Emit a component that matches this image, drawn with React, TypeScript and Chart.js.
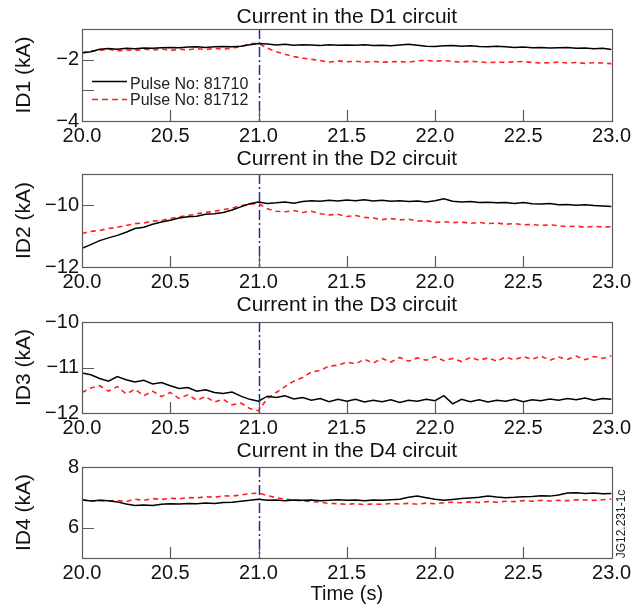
import React, { useEffect, useRef } from "react";
import { Chart, registerables } from "chart.js";
Chart.register(...registerables);

// ---------- DATA ----------
const TIME = [
  20.0, 20.05, 20.1, 20.15, 20.2, 20.25, 20.3, 20.35, 20.4, 20.45,
  20.5, 20.55, 20.6, 20.65, 20.7, 20.75, 20.8, 20.85, 20.9, 20.95,
  21.0, 21.05, 21.1, 21.15, 21.2, 21.25, 21.3, 21.35, 21.4, 21.45,
  21.5, 21.55, 21.6, 21.65, 21.7, 21.75, 21.8, 21.85, 21.9, 21.95,
  22.0, 22.05, 22.1, 22.15, 22.2, 22.25, 22.3, 22.35, 22.4, 22.45,
  22.5, 22.55, 22.6, 22.65, 22.7, 22.75, 22.8, 22.85, 22.9, 22.95,
  23.0,
];

const D1_81710 = [
  -1.78, -1.74, -1.66, -1.64, -1.66, -1.63, -1.64, -1.62, -1.63, -1.61,
  -1.6, -1.61, -1.59, -1.58, -1.6, -1.58, -1.57, -1.58, -1.56, -1.51,
  -1.47, -1.49, -1.52, -1.5, -1.53, -1.51, -1.52, -1.54, -1.51, -1.53,
  -1.52, -1.53, -1.51, -1.54, -1.53, -1.55, -1.52, -1.5, -1.53, -1.56,
  -1.57, -1.55, -1.54, -1.56, -1.55, -1.57, -1.58, -1.56, -1.58, -1.6,
  -1.59, -1.61, -1.6, -1.62, -1.61, -1.6, -1.63, -1.62, -1.64, -1.63,
  -1.67,
];
const D1_81712 = [
  -1.77, -1.72, -1.7, -1.66, -1.72, -1.68, -1.7, -1.66, -1.69, -1.65,
  -1.7, -1.66, -1.68, -1.64, -1.67, -1.63, -1.66, -1.62, -1.58, -1.48,
  -1.47, -1.62, -1.74, -1.82, -1.9, -1.95, -1.99, -2.03, -2.08, -2.04,
  -2.07, -2.05, -2.08, -2.06, -2.08, -2.07, -2.06, -2.08, -2.04, -2.02,
  -2.05, -2.03, -2.06, -2.08, -2.05, -2.07, -2.1, -2.08, -2.09, -2.07,
  -2.06, -2.09, -2.11, -2.1, -2.08, -2.11, -2.09, -2.12, -2.1, -2.11,
  -2.13,
];

const D2_81710 = [
  -11.4, -11.28, -11.15, -11.06, -10.98, -10.88, -10.76, -10.72, -10.62, -10.55,
  -10.49, -10.42, -10.38, -10.36, -10.3, -10.28, -10.24, -10.16, -10.06, -9.96,
  -9.9, -9.95, -9.93, -9.9, -9.94, -9.89, -9.86, -9.88, -9.85, -9.87,
  -9.84, -9.86, -9.83, -9.87, -9.85, -9.88, -9.86, -9.89, -9.87, -9.9,
  -9.86, -9.8, -9.88, -9.9, -9.89, -9.92, -9.91, -9.93, -9.92, -9.95,
  -9.92, -9.96, -9.97, -9.95, -9.99, -9.98, -10.01, -9.99, -10.02, -10.03,
  -10.05,
];
const D2_81712 = [
  -10.92, -10.85, -10.82, -10.76, -10.72, -10.66, -10.6, -10.58, -10.52, -10.5,
  -10.44, -10.38, -10.34, -10.28, -10.24, -10.2, -10.15, -10.1, -10.02, -9.98,
  -9.95, -10.12, -10.2, -10.22, -10.18, -10.24, -10.2, -10.28, -10.32, -10.3,
  -10.37, -10.34, -10.4, -10.42, -10.47, -10.44, -10.48, -10.46, -10.52, -10.5,
  -10.56, -10.54, -10.57, -10.55, -10.59, -10.56, -10.6, -10.58, -10.62, -10.6,
  -10.64, -10.63, -10.66, -10.64, -10.67, -10.7, -10.68, -10.72, -10.69, -10.71,
  -10.7,
];

const D3_81710 = [
  -11.12, -11.16, -11.24, -11.3, -11.2, -11.27, -11.32, -11.28, -11.36, -11.33,
  -11.4, -11.46, -11.44, -11.52, -11.49, -11.55, -11.57, -11.54, -11.63, -11.7,
  -11.74, -11.63, -11.66, -11.62, -11.69, -11.66, -11.72, -11.68, -11.75, -11.7,
  -11.74, -11.7, -11.76, -11.72, -11.75, -11.71, -11.77, -11.72, -11.74, -11.7,
  -11.73, -11.62, -11.8, -11.7, -11.75, -11.71, -11.76, -11.72, -11.74, -11.7,
  -11.75, -11.71, -11.73, -11.69, -11.72, -11.68, -11.71, -11.67, -11.72, -11.68,
  -11.7,
];
const D3_81712 = [
  -11.55, -11.45, -11.4, -11.52, -11.42, -11.58, -11.48, -11.62, -11.52, -11.64,
  -11.55, -11.68, -11.6, -11.72, -11.64, -11.76, -11.7, -11.82, -11.78, -11.9,
  -11.95, -11.68, -11.55, -11.42, -11.3, -11.22, -11.1, -11.06, -10.97, -10.95,
  -10.88, -10.92, -10.82, -10.9, -10.8, -10.88, -10.78, -10.86, -10.79, -10.84,
  -10.76, -10.85, -10.8, -10.87, -10.78, -10.84, -10.79, -10.86, -10.77, -10.83,
  -10.76, -10.82, -10.75, -10.84, -10.77, -10.82, -10.75, -10.83, -10.76, -10.8,
  -10.74,
];

const D4_81710 = [
  6.92, 6.88, 6.9, 6.89, 6.85, 6.78, 6.73, 6.75, 6.73, 6.77,
  6.79, 6.78, 6.8, 6.79, 6.81, 6.8, 6.83, 6.84, 6.87, 6.9,
  6.94, 6.9, 6.91, 6.89, 6.91, 6.9, 6.91, 6.89, 6.9, 6.92,
  6.9, 6.91, 6.89, 6.91, 6.9, 6.92, 6.94, 7.0, 7.04, 6.99,
  6.94, 6.9, 6.93, 6.96, 6.98, 7.0, 7.04, 7.01, 6.99, 7.0,
  7.02, 7.03, 7.05, 7.04, 7.08, 7.14, 7.15, 7.13, 7.14, 7.12,
  7.13,
];
const D4_81712 = [
  6.92, 6.87, 6.9, 6.88, 6.9, 6.86, 6.94, 6.9, 6.96, 6.93,
  6.97, 6.95, 6.99, 6.98, 7.02, 7.0, 7.05, 7.04, 7.08, 7.12,
  7.14, 7.06, 6.99, 6.94, 6.91, 6.88, 6.86, 6.84, 6.8, 6.79,
  6.77, 6.79, 6.76, 6.78, 6.77, 6.8, 6.78, 6.8, 6.77, 6.81,
  6.79, 6.82, 6.84, 6.82, 6.85, 6.83, 6.86, 6.84, 6.87, 6.86,
  6.89, 6.87, 6.9, 6.88, 6.9, 6.89, 6.92, 6.91, 6.9, 6.92,
  6.94,
];

const X_TICKS = [20.0, 20.5, 21.0, 21.5, 22.0, 22.5, 23.0];
const X_TICK_LABELS = ["20.0", "20.5", "21.0", "21.5", "22.0", "22.5", "23.0"];

const Y1_TICKS = [-4, -3, -2];
const Y1_TICK_LABELS = ["\u22124", "", "\u22122"];
const Y2_TICKS = [-12, -10];
const Y2_TICK_LABELS = ["\u221212", "\u221210"];
const Y3_TICKS = [-12, -11, -10];
const Y3_TICK_LABELS = ["\u221212", "\u221211", "\u221210"];
const Y4_TICKS = [6, 8];
const Y4_TICK_LABELS = ["6", "8"];

const Y_RANGES = [
  [-4, -1],
  [-12, -9],
  [-12, -10],
  [5, 8],
];

const PANEL_TITLES = [
  "Current in the D1 circuit",
  "Current in the D2 circuit",
  "Current in the D3 circuit",
  "Current in the D4 circuit",
];
const Y_TITLES = ["ID1 (kA)", "ID2 (kA)", "ID3 (kA)", "ID4 (kA)"];
const SERIES_LABELS = ["Pulse No: 81710", "Pulse No: 81712"];
const MARKER_TIME = 21.0;
const X_TITLE = "Time (s)";
const FIGURE_ID = "JG12.231-1c";

// ---------- LAYOUT / STYLE ----------
const W = 634;
const H = 615;
const PLOT_LEFT = 82;
const PLOT_RIGHT = 612;
const FONT = "'Liberation Sans', Arial, Helvetica, sans-serif";
const FRAME = "#5a5a5a";

const PANELS = [
  { top: 29, bottom: 121, titleY: 17.5, black: D1_81710, red: D1_81712, ticks: Y1_TICKS, labels: Y1_TICK_LABELS },
  { top: 174, bottom: 267, titleY: 159.5, black: D2_81710, red: D2_81712, ticks: Y2_TICKS, labels: Y2_TICK_LABELS },
  { top: 322, bottom: 413, titleY: 305, black: D3_81710, red: D3_81712, ticks: Y3_TICKS, labels: Y3_TICK_LABELS },
  { top: 467, bottom: 558, titleY: 451.5, black: D4_81710, red: D4_81712, ticks: Y4_TICKS, labels: Y4_TICK_LABELS },
];

function makePlugin(idx: number) {
  const p = PANELS[idx];
  return {
    id: "decor" + idx,
    afterDatasetsDraw(chart: any) {
      const { ctx, chartArea: a, scales } = chart;
      const xs = scales.x;
      const ys = scales.y;
      ctx.save();
      // marker line
      const mx = Math.round(xs.getPixelForValue(MARKER_TIME)) + 0.5;
      ctx.strokeStyle = "#2a2a96";
      ctx.lineWidth = 1.5;
      ctx.setLineDash([10, 3, 2, 3]);
      ctx.beginPath();
      ctx.moveTo(mx, a.top);
      ctx.lineTo(mx, a.bottom + 1);
      ctx.stroke();
      ctx.setLineDash([]);
      // frame
      ctx.strokeStyle = FRAME;
      ctx.lineWidth = 1.2;
      ctx.strokeRect(Math.round(a.left) + 0.5, Math.round(a.top) + 0.5, Math.round(a.width), Math.round(a.height));
      // inward ticks
      ctx.beginPath();
      for (const v of X_TICKS) {
        const px = Math.round(xs.getPixelForValue(v)) + 0.5;
        if (px <= a.left + 1 || px >= a.right - 1) continue;
        ctx.moveTo(px, a.bottom);
        ctx.lineTo(px, a.bottom - 11);
      }
      for (const v of p.ticks) {
        const py = Math.round(ys.getPixelForValue(v)) + 0.5;
        if (py <= a.top + 1 || py >= a.bottom - 1) continue;
        ctx.moveTo(a.left, py);
        ctx.lineTo(a.left + 12, py);
      }
      ctx.stroke();
      // panel title
      ctx.fillStyle = "#111";
      ctx.font = `21px ${FONT}`;
      ctx.textAlign = "center";
      ctx.textBaseline = "middle";
      ctx.fillText(PANEL_TITLES[idx], (a.left + a.right) / 2, p.titleY);
      // legend (panel 1 only)
      if (idx === 0) {
        const lx = a.left + 10;
        ctx.lineWidth = 1.6;
        ctx.strokeStyle = "#000";
        ctx.beginPath();
        ctx.moveTo(lx, a.top + 52.5);
        ctx.lineTo(lx + 35, a.top + 52.5);
        ctx.stroke();
        ctx.strokeStyle = "#ff1f1f";
        ctx.setLineDash([6, 4]);
        ctx.beginPath();
        ctx.moveTo(lx, a.top + 70.5);
        ctx.lineTo(lx + 35, a.top + 70.5);
        ctx.stroke();
        ctx.setLineDash([]);
        ctx.font = `16px ${FONT}`;
        ctx.textAlign = "left";
        ctx.fillStyle = "#222";
        ctx.fillText(SERIES_LABELS[0], lx + 38, a.top + 56);
        ctx.fillText(SERIES_LABELS[1], lx + 38, a.top + 72);
      }
      if (idx === 3) {
        ctx.save();
        ctx.translate(622, 524);
        ctx.rotate(-Math.PI / 2);
        ctx.font = `12px ${FONT}`;
        ctx.textAlign = "center";
        ctx.textBaseline = "middle";
        ctx.fillStyle = "#222";
        ctx.fillText(FIGURE_ID, 0, 0);
        ctx.restore();
      }
      ctx.restore();
    },
  };
}

function makeConfig(idx: number): any {
  const p = PANELS[idx];
  const last = idx === 3;
  const xH = last ? 49 : 30;
  const padBottom = H - p.bottom - xH;
  return {
    type: "line",
    data: {
      datasets: [
        {
          label: SERIES_LABELS[0],
          data: TIME.map((t, i) => ({ x: t, y: p.black[i] })),
          borderColor: "#000",
          borderWidth: 1.5,
          pointRadius: 0,
          tension: 0,
          fill: false,
        },
        {
          label: SERIES_LABELS[1],
          data: TIME.map((t, i) => ({ x: t, y: p.red[i] })),
          borderColor: "#ff1f1f",
          borderWidth: 1.6,
          borderDash: [5, 4],
          pointRadius: 0,
          tension: 0,
          fill: false,
        },
      ],
    },
    options: {
      responsive: false,
      maintainAspectRatio: false,
      animation: false,
      events: [],
      layout: { padding: { top: p.top, left: 0, right: W - PLOT_RIGHT, bottom: padBottom } },
      plugins: { legend: { display: false }, tooltip: { enabled: false }, title: { display: false } },
      scales: {
        x: {
          type: "linear",
          min: X_TICKS[0],
          max: X_TICKS[X_TICKS.length - 1],
          afterBuildTicks: (s: any) => {
            s.ticks = X_TICKS.map((v) => ({ value: v }));
          },
          afterFit: (s: any) => {
            s.height = xH;
          },
          grid: { display: false, drawTicks: false },
          border: { display: false },
          ticks: {
            autoSkip: false,
            maxRotation: 0,
            padding: 3,
            color: "#111",
            font: { family: FONT, size: 20 },
            callback: (_v: any, i: number) => X_TICK_LABELS[i],
          },
          title: last
            ? { display: true, text: X_TITLE, color: "#111", font: { family: FONT, size: 20 }, padding: { top: 0, bottom: 1 } }
            : { display: false },
        },
        y: {
          type: "linear",
          min: Y_RANGES[idx][0],
          max: Y_RANGES[idx][1],
          afterBuildTicks: (s: any) => {
            s.ticks = p.ticks.map((v) => ({ value: v }));
          },
          afterFit: (s: any) => {
            s.width = PLOT_LEFT;
          },
          grid: { display: false, drawTicks: false },
          border: { display: false },
          ticks: {
            padding: 3,
            color: "#111",
            font: { family: FONT, size: 20 },
            callback: (_v: any, i: number) => p.labels[i],
          },
          title: {
            display: true,
            text: Y_TITLES[idx],
            color: "#111",
            font: { family: FONT, size: 21 },
            padding: { top: 12, bottom: 0 },
          },
        },
      },
    },
    plugins: [makePlugin(idx)],
  };
}

export default function App() {
  const refs = [useRef<HTMLCanvasElement>(null), useRef<HTMLCanvasElement>(null), useRef<HTMLCanvasElement>(null), useRef<HTMLCanvasElement>(null)];
  useEffect(() => {
    const charts = refs.map((r, i) => new Chart(r.current as HTMLCanvasElement, makeConfig(i)));
    return () => charts.forEach((c) => c.destroy());
  }, []);
  return (
    <div style={{ position: "fixed", left: 0, top: 0, width: W, height: H, background: "#fff", overflow: "hidden" }}>
      {refs.map((r, i) => (
        <canvas key={i} ref={r} width={W} height={H} style={{ position: "absolute", left: 0, top: 0, width: W, height: H }} />
      ))}
    </div>
  );
}
